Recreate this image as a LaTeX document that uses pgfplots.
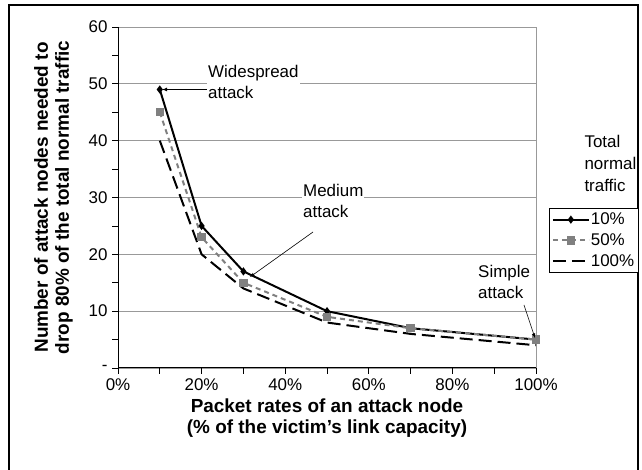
\documentclass[border=0pt]{standalone}
\usepackage{pgfplots}
\pgfplotsset{compat=1.18}
\usepackage{fontspec}
\setmainfont{Liberation Sans}
\begin{document}
\begin{tikzpicture}[x=1bp,y=1bp]
\useasboundingbox (0,0) rectangle (642,470);
\draw[line width=1.2bp] (9,-5) -- (9,465) -- (638,465) -- (638,-5);
\begin{axis}[
  at={(118bp,102bp)}, anchor=south west,
  scale only axis, width=418bp, height=341bp,
  xmin=0, xmax=1, ymin=0, ymax=60,
  axis line style={draw=none},
  xtick={0,0.2,0.4,0.6,0.8,1},
  xticklabels={0\%,20\%,40\%,60\%,80\%,100\%},
  minor xtick={0.1,0.3,0.5,0.7,0.9},
  ytick={0,10,20,30,40,50,60},
  yticklabels={-,10,20,30,40,50,60},
  minor ytick={5,15,25,35,45,55},
  ymajorgrids, major grid style={gray!80, line width=0.8bp},
  xmajorgrids=false,
  tick align=outside, tick pos=left,
  major tick length=6bp, minor tick length=6bp,
  every tick/.style={black, line width=0.8bp},
  minor tick style={black, line width=0.8bp},
  tick label style={font=\fontsize{17}{20}\selectfont},
  /pgf/number format/assume math mode=true,
  xticklabel style={yshift=-1bp},
  yticklabel style={xshift=-1bp},
  xlabel={\textbf{Packet rates of an attack node}\\\textbf{(\% of the victim's link capacity)}},
  xlabel style={font=\fontsize{19}{22}\selectfont, align=center, yshift=-1bp},
  ylabel={\textbf{Number of attack nodes needed to}\\\textbf{drop 80\% of the total normal traffic}},
  ylabel style={font=\fontsize{19}{21}\selectfont, align=center, yshift=9bp},
  legend style={at={(1.031,0.469)}, anchor=north west, draw=black, line width=0.8bp,
    font=\fontsize{17}{20}\selectfont, row sep=3.5bp, inner sep=2.5bp,
    /tikz/every odd column/.append style={column sep=-1bp}},
  legend cell align=left,
  legend image code/.code={
    \draw[#1, mark repeat=2, mark phase=2] plot coordinates {(0bp,0bp) (18bp,0bp) (36bp,0bp)};
  },
  clip=false,
]
\draw[gray!80, line width=0.8bp] (axis cs:0,60) -- (axis cs:1,60) -- (axis cs:1,0);
\draw[black, line width=1bp] (axis cs:0,60) -- (axis cs:0,0) -- (axis cs:1,0);
\addplot[black, line width=2bp, mark=diamond*, mark size=2.5bp] coordinates {
(0.1,49) (0.2,25) (0.3,17) (0.5,10) (0.7,7) (1.0,5)};
\addlegendentry{10\%}
\addplot[gray, line width=2bp, dash pattern=on 5bp off 4bp, mark=square*, mark size=3.2bp, mark options={solid, gray}] coordinates {
(0.1,45) (0.2,23) (0.3,15) (0.5,9) (0.7,7) (1.0,5)};
\addlegendentry{50\%}
\addplot[black, line width=2bp, dash pattern=on 13bp off 6bp] coordinates {
(0.1,40) (0.2,20) (0.3,14) (0.5,8) (0.7,6) (1.0,4)};
\addlegendentry{100\%}
\end{axis}
\node[fill=white, inner sep=1bp, align=left, anchor=north west, font=\fontsize{17}{21}\selectfont] at (207,406) {Widespread\\attack};
\draw[-latex, line width=0.8bp] (207,380.5) -- (162,380.5);
\node[fill=white, inner sep=1bp, align=left, anchor=north west, font=\fontsize{17}{21}\selectfont] at (302,287) {Medium\\attack};
\draw[-latex, line width=0.6bp] (313,238) -- (250,193);
\node[fill=white, inner sep=1bp, align=left, anchor=north west, font=\fontsize{17}{21}\selectfont] at (477,206) {Simple\\attack};
\draw[-latex, line width=0.6bp] (524,165) -- (535,132);
\node[align=left, anchor=north west, font=\fontsize{17}{22}\selectfont] at (581,338) {Total\\normal\\traffic};
\end{tikzpicture}
\end{document}
